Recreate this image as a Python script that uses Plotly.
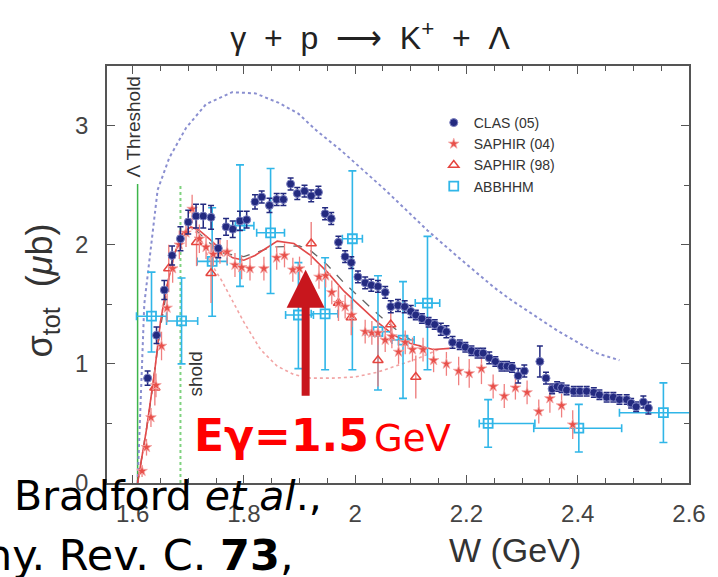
import plotly.graph_objects as go

# ---------------- data ----------------
clas_W = [1.627,1.643,1.657,1.671,1.686,1.700,1.714,1.727,1.741,1.754,
          1.768,1.780,1.793,1.805,1.820,1.832,1.846,1.859,1.871,1.884,
          1.896,1.909,1.921,1.934,1.946,1.957,1.970,1.982,1.993,2.005,
          2.018,2.029,2.041,2.054,2.064,2.077,2.089,2.100,2.109,2.120,
          2.132,2.143,2.154,2.164,2.175,2.188,2.198,2.209,2.220,2.230,
          2.241,2.252,2.263,2.273,2.282,2.293,2.304,2.332,2.343,2.354,
          2.363,2.371,2.380,2.393,2.404,2.416,2.429,2.439,2.452,2.464,
          2.475,2.488,2.496,2.505,2.518,2.527]
clas_sig = [0.88,1.24,1.62,1.91,2.05,2.19,2.24,2.24,2.23,1.97,
            2.15,2.13,2.20,2.21,2.36,2.40,2.33,2.38,2.38,2.51,
            2.43,2.45,2.41,2.44,2.26,2.22,2.02,1.90,1.85,1.73,
            1.68,1.66,1.65,1.60,1.48,1.49,1.48,1.44,1.41,1.38,
            1.35,1.33,1.29,1.27,1.18,1.16,1.14,1.11,1.09,1.09,
            1.05,1.02,0.98,0.98,0.97,0.90,0.94,1.02,0.88,0.79,
            0.81,0.80,0.78,0.77,0.77,0.77,0.76,0.74,0.72,0.72,
            0.70,0.70,0.67,0.64,0.68,0.63]
clas_err = [0.06,0.07,0.08,0.08,0.10,0.10,0.10,0.10,0.10,0.08,
            0.07,0.07,0.08,0.07,0.06,0.05,0.06,0.05,0.05,0.05,
            0.05,0.05,0.05,0.05,0.05,0.05,0.05,0.05,0.05,0.05,
            0.05,0.05,0.05,0.05,0.05,0.05,0.05,0.05,0.04,0.04,
            0.04,0.04,0.05,0.05,0.05,0.04,0.04,0.04,0.04,0.04,
            0.05,0.04,0.04,0.04,0.04,0.06,0.05,0.13,0.05,0.04,
            0.04,0.04,0.04,0.04,0.04,0.04,0.04,0.04,0.04,0.04,
            0.04,0.04,0.04,0.04,0.05,0.05]

saphir04_W = [1.617,1.625,1.633,1.642,1.652,1.662,1.672,1.684,1.696,1.707,
              1.720,1.732,1.745,1.757,1.770,1.784,1.796,1.811,1.836,1.859,
              1.873,1.888,1.900,1.935,1.947,1.958,1.970,1.982,1.994,2.018,
              2.030,2.041,2.054,2.066,2.078,2.090,2.103,2.122,2.141,2.164,
              2.186,2.205,2.227,2.248,2.268,2.288,2.309,2.330,2.350,2.371,
              2.391]
saphir04_sig = [0.10,0.30,0.55,0.82,1.15,1.47,1.80,2.00,2.10,2.30,
                2.05,1.98,1.92,1.94,1.94,1.83,1.81,1.80,1.80,1.89,
                1.91,1.79,1.80,1.73,1.74,1.60,1.51,1.48,1.41,1.27,
                1.26,1.26,1.20,1.23,1.10,1.18,1.12,1.12,1.03,1.00,
                0.94,0.92,0.96,0.81,0.73,0.80,0.76,0.60,0.71,0.65,
                0.49]
saphir04_err = [0.05,0.07,0.08,0.10,0.12,0.12,0.12,0.12,0.12,0.12,
                0.12,0.10,0.10,0.10,0.10,0.10,0.10,0.10,0.10,0.10,
                0.10,0.10,0.10,0.10,0.10,0.10,0.10,0.10,0.10,0.10,
                0.10,0.10,0.10,0.10,0.10,0.10,0.10,0.10,0.10,0.10,
                0.12,0.12,0.13,0.10,0.10,0.10,0.10,0.10,0.12,0.10,
                0.12]

saphir98_W = [1.640,1.665,1.715,1.741,1.921,1.970,1.993,2.041,2.064,2.109]
saphir98_sig = [0.80,1.80,2.02,1.76,2.01,1.51,1.39,1.03,1.33,0.89]
saphir98_err = [0.15,0.20,0.20,0.25,0.18,0.15,0.15,0.22,0.15,0.18]

abb_W = [1.634,1.688,1.743,1.793,1.848,1.898,1.946,1.995,2.041,2.086,2.130,2.239,2.402,2.554]
abb_sig = [1.40,1.36,1.86,2.16,2.10,1.41,1.42,2.05,1.27,1.20,1.51,0.50,0.46,0.59]
abb_err_plus = [0.37,0.36,0.45,0.51,0.54,0.44,0.47,0.57,0.47,0.49,0.56,0.20,0.20,0.25]
abb_err_minus = [0.30,0.36,0.46,0.51,0.51,0.45,0.47,1.10,0.49,0.49,0.56,0.20,0.20,0.25]
abb_xerr_minus = [0.027,0.027,0.027,0.025,0.025,0.023,0.025,0.018,0.023,0.020,0.022,0.016,0.081,0.079]
abb_xerr_plus = [0.027,0.029,0.027,0.025,0.025,0.027,0.023,0.018,0.023,0.020,0.022,0.084,0.077,0.080]

# model curves
blue_W = [1.609,1.613,1.617,1.621,1.634,1.645,1.666,1.696,1.732,1.779,1.821,1.863,
          1.898,1.930,1.975,2.054,2.130,2.184,2.250,2.279,2.363,2.434,2.475]
blue_sig = [0.0,0.45,1.00,1.50,2.00,2.46,2.73,2.98,3.18,3.28,3.27,3.19,
            3.10,2.96,2.79,2.46,2.12,1.90,1.64,1.54,1.28,1.09,1.03]

red_W = [1.609,1.625,1.640,1.650,1.660,1.675,1.690,1.705,1.720,1.740,1.760,1.780,
         1.800,1.820,1.840,1.860,1.890,1.920,1.950,1.980,2.010,2.040,2.070,2.100,2.140,2.170]
red_sig = [0.0,0.45,0.95,1.35,1.62,1.92,2.10,2.15,2.12,2.04,1.95,1.89,
           1.87,1.91,1.97,2.03,2.01,1.91,1.77,1.61,1.48,1.35,1.24,1.17,1.12,1.13]

gray_W = [1.609,1.630,1.650,1.670,1.690,1.710,1.730,1.760,1.800,1.850,1.900,1.920,
          1.950,1.980,2.010,2.040,2.070,2.100,2.140]
gray_sig = [0.0,0.60,1.30,1.85,2.10,2.14,2.05,1.93,1.90,1.98,1.99,1.95,
            1.83,1.68,1.55,1.42,1.30,1.20,1.08]

pink_W = [1.609,1.625,1.640,1.650,1.660,1.675,1.690,1.705,1.720,1.740,1.760,1.780,
          1.800,1.830,1.860,1.890,1.920,1.960,2.000,2.040,2.080,2.110,2.150]
pink_sig = [0.0,0.45,0.95,1.35,1.62,1.92,2.10,2.14,2.08,1.85,1.70,1.52,
            1.35,1.12,0.98,0.91,0.88,0.88,0.89,0.93,0.99,1.04,1.12]

thresholds_W = [1.609, 1.686]   # Lambda, Sigma0
threshold_top = 2.51
arrow_W = 1.911
arrow_tip, arrow_tail = 1.79, 0.72

x_ticks = [1.6, 1.8, 2.0, 2.2, 2.4, 2.6]
x_tick_labels = ['1.6', '1.8', '2', '2.2', '2.4', '2.6']
y_ticks = [0, 1, 2, 3]
y_tick_labels = ['0', '1', '2', '3']

NAVY = '#232a80'
RED = '#e5453f'
CYAN = '#30b6e8'
AX = 'Liberation Sans'


def px(xp):
    return (xp - 107) / 586


def py(yp):
    return (483 - yp) / 417


fig = go.Figure()
fig.add_trace(go.Scatter(x=blue_W, y=blue_sig, mode='lines', showlegend=False,
                         line=dict(color='#8a8fd0', dash='dot', width=2), hoverinfo='skip'))
fig.add_trace(go.Scatter(x=pink_W, y=pink_sig, mode='lines', showlegend=False,
                         line=dict(color='#f2a4a4', dash='dot', width=1.6), hoverinfo='skip'))
fig.add_trace(go.Scatter(x=gray_W, y=gray_sig, mode='lines', showlegend=False,
                         line=dict(color='#666666', dash='dash', width=1.3), hoverinfo='skip'))
fig.add_trace(go.Scatter(x=red_W, y=red_sig, mode='lines', showlegend=False,
                         line=dict(color='#e24a4a', width=1.6), hoverinfo='skip'))

fig.add_trace(go.Scatter(
    x=abb_W, y=abb_sig, mode='markers', name='ABBHHM',
    marker=dict(symbol='square-open', size=9, color=CYAN, line=dict(width=1.8, color=CYAN)),
    error_y=dict(type='data', symmetric=False, array=abb_err_plus, arrayminus=abb_err_minus,
                 color=CYAN, thickness=1.6, width=4),
    error_x=dict(type='data', symmetric=False, array=abb_xerr_plus, arrayminus=abb_xerr_minus,
                 color=CYAN, thickness=1.6, width=4)))
fig.add_trace(go.Scatter(
    x=saphir98_W, y=saphir98_sig, mode='markers', name='SAPHIR (98)',
    marker=dict(symbol='triangle-up-open', size=9, color=RED, line=dict(width=1.5, color=RED)),
    error_y=dict(type='data', array=saphir98_err, color='#ee8080', thickness=1.4, width=0)))
fig.add_trace(go.Scatter(
    x=saphir04_W, y=saphir04_sig, mode='markers', name='SAPHIR (04)',
    marker=dict(symbol='star', size=8, color='#e8504a', line=dict(width=0.8, color='#f4a8a8')),
    error_y=dict(type='data', array=saphir04_err, color='#f08080', thickness=1.3, width=0)))
fig.add_trace(go.Scatter(
    x=clas_W, y=clas_sig, mode='markers', name='CLAS (05)',
    marker=dict(symbol='circle', size=8, color=NAVY, line=dict(width=1, color='#7c80c0')),
    error_y=dict(type='data', array=clas_err, color=NAVY, thickness=1.5, width=3)))

# threshold lines
fig.add_shape(type='line', xref='x', yref='y', x0=thresholds_W[0], x1=thresholds_W[0],
              y0=0, y1=threshold_top, line=dict(color='#3cb54a', width=1.5), layer='below')
fig.add_shape(type='line', xref='x', yref='y', x0=thresholds_W[1], x1=thresholds_W[1],
              y0=0, y1=threshold_top, line=dict(color='#7fd27f', width=2, dash='dot'), layer='below')

ann = []
ann.append(dict(xref='x', yref='y', x=thresholds_W[0] - 0.007, y=2.99, text='Λ Threshold',
                xanchor='center', yanchor='middle',
                textangle=-90, showarrow=False, font=dict(family=AX, size=19, color='#333')))
ann.append(dict(xref='x', yref='y', x=thresholds_W[1] + 0.028, y=0.91, text='shold',
                xanchor='center', yanchor='middle',
                textangle=-90, showarrow=False, font=dict(family=AX, size=19, color='#333')))
# arrow
ann.append(dict(xref='x', yref='y', axref='x', ayref='y', x=arrow_W, y=arrow_tip,
                ax=arrow_W, ay=arrow_tail, text='', showarrow=True, arrowhead=2,
                arrowwidth=8, arrowsize=0.95, arrowcolor='#c8161d', standoff=0))
# axis titles
ann.append(dict(xref='paper', yref='paper', x=px(42), y=py(290), xanchor='center', yanchor='middle',
                text='σ<sub>tot</sub>  (<i>μ</i>b)',
                textangle=-90, showarrow=False, font=dict(family=AX, size=36, color='#333')))
ann.append(dict(xref='paper', yref='paper', x=px(518), y=py(550), xanchor='center', yanchor='middle',
                text='W (GeV)', showarrow=False, font=dict(family=AX, size=34, color='#333')))
# overlay texts
ann.append(dict(xref='paper', yref='paper', x=px(193), y=py(435), xanchor='left', yanchor='middle',
                text='<b>Eγ=1.5</b>', showarrow=False,
                font=dict(family='DejaVu Sans', size=44, color='#ff0000')))
ann.append(dict(xref='paper', yref='paper', x=px(374), y=py(438), xanchor='left', yanchor='middle',
                text='GeV', showarrow=False,
                font=dict(family='DejaVu Sans', size=37, color='#ff0000')))
ann.append(dict(xref='paper', yref='paper', x=px(11), y=py(496), xanchor='left', yanchor='middle',
                text='Bradford <i>et al</i>.,', showarrow=False,
                font=dict(family='DejaVu Sans', size=41, color='#000')))
ann.append(dict(xref='paper', yref='paper', x=px(297), y=py(555), xanchor='right', yanchor='middle',
                text='Phy. Rev. C. <b>73</b>,', showarrow=False,
                font=dict(family='DejaVu Sans', size=43, color='#000')))

axis_common = dict(showgrid=False, zeroline=False, showline=True, linecolor='#555', linewidth=1.5,
                   mirror='allticks', ticks='inside', ticklen=8, tickwidth=1, tickcolor='#555',
                   tickfont=dict(family=AX, size=24, color='#444'))

fig.update_layout(
    width=718, height=577, margin=dict(l=107, r=25, t=66, b=94),
    paper_bgcolor='white', plot_bgcolor='white',
    title=dict(text='γ  +  p  ⟶  K<sup>+</sup>  +  Λ', x=370 / 718, xanchor='center',
               y=1 - 38 / 577, yanchor='middle', font=dict(family=AX, size=32, color='#222')),
    xaxis=dict(range=[1.554, 2.6], tickvals=x_ticks, ticktext=x_tick_labels,
               minor=dict(dtick=0.05, tick0=1.6, ticks='inside', ticklen=5, tickcolor='#555'),
               ticklabelstandoff=8, **axis_common),
    yaxis=dict(range=[0, 3.5], tickvals=y_ticks, ticktext=y_tick_labels,
               minor=dict(dtick=0.5, tick0=0, ticks='inside', ticklen=5, tickcolor='#555'),
               ticklabelstandoff=12, **axis_common),
    legend=dict(x=px(436), y=py(107), xanchor='left', yanchor='top',
                traceorder='reversed', bgcolor='rgba(0,0,0,0)',
                font=dict(family=AX, size=14, color='#333'), tracegroupgap=0),
    annotations=ann, showlegend=True,
)

fig.write_html('out.html')
